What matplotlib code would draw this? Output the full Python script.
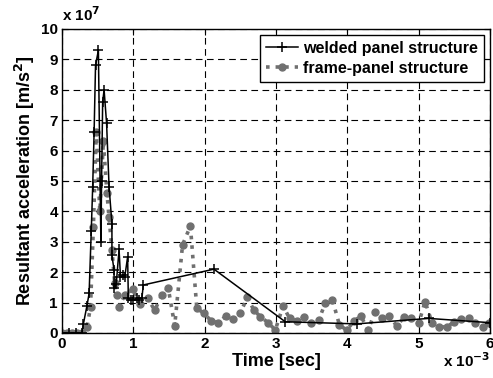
import matplotlib
matplotlib.use("Agg")
import matplotlib.pyplot as plt

plt.rcParams['font.family'] = ['Liberation Sans', 'DejaVu Sans']
plt.rcParams['font.weight'] = 'bold'

# time in ms (x 10^-3 s), acceleration in units of 1e7 m/s^2
welded_t = [0.0, 0.1, 0.2, 0.28, 0.30, 0.35, 0.38, 0.41, 0.43, 0.45, 0.47, 0.51,
            0.545, 0.555, 0.57, 0.59, 0.625, 0.66, 0.70, 0.70, 0.73, 0.73, 0.76,
            0.80, 0.82, 0.86, 0.88, 0.92, 0.93, 0.97, 1.00, 1.05, 1.08, 1.12,
            1.14, 2.13, 3.13, 4.13, 5.14, 6.00]
welded_a = [0.0, 0.0, 0.0, 0.0, 0.3, 0.9, 1.3, 3.35, 4.8, 6.6, 8.8, 9.3,
            3.0, 5.0, 7.6, 8.0, 6.9, 4.8, 3.6, 2.55, 2.07, 1.47, 1.6,
            2.75, 1.85, 1.9, 1.85, 2.5, 1.14, 1.1, 1.08, 1.15, 1.1, 1.15,
            1.58, 2.1, 0.37, 0.3, 0.48, 0.34]

frame_t = [0.0, 0.07, 0.14, 0.21, 0.28, 0.35, 0.40, 0.44, 0.48, 0.53, 0.58,
           0.63, 0.66, 0.70, 0.74, 0.77, 0.80, 0.88, 0.99, 1.09, 1.20, 1.30,
           1.40, 1.49, 1.58, 1.69, 1.80, 1.89, 1.99, 2.09, 2.19, 2.30, 2.40,
           2.50, 2.60, 2.69, 2.78, 2.89, 2.99, 3.10, 3.19, 3.29, 3.39, 3.49,
           3.60, 3.69, 3.79, 3.89, 3.99, 4.10, 4.19, 4.29, 4.39, 4.49, 4.59,
           4.69, 4.80, 4.89, 5.00, 5.09, 5.19, 5.29, 5.40, 5.50, 5.59, 5.70,
           5.79, 5.90, 5.99]
frame_a = [0.0, 0.0, 0.0, 0.0, 0.0, 0.2, 0.85, 3.5, 6.6, 4.0, 6.3,
           4.6, 3.8, 2.73, 1.63, 1.25, 0.87, 1.25, 1.44, 0.97, 1.14, 0.75,
           1.25, 1.47, 0.24, 2.9, 3.52, 0.81, 0.65, 0.4, 0.34, 0.56, 0.45,
           0.67, 1.17, 0.75, 0.54, 0.34, 0.1, 0.89, 0.48, 0.4, 0.52, 0.32,
           0.43, 0.98, 1.1, 0.26, 0.1, 0.4, 0.56, 0.1, 0.7, 0.48, 0.56,
           0.24, 0.52, 0.48, 0.32, 1.03, 0.32, 0.19, 0.21, 0.37, 0.45, 0.48,
           0.32, 0.21, 0.34]

x_ticks = [0, 1, 2, 3, 4, 5, 6]
y_ticks = [0, 1, 2, 3, 4, 5, 6, 7, 8, 9, 10]

fig = plt.figure(figsize=(4.93, 3.78), dpi=100)
ax = fig.add_axes([62/493, 45/378, 428/493, 304/378])

gray = '#707070'
ax.plot(frame_t, frame_a, linestyle=':', color=gray, linewidth=2.6,
        marker='o', markersize=5, markeredgecolor=gray, markerfacecolor=gray,
        label='frame-panel structure', zorder=2)
ax.plot(welded_t, welded_a, linestyle='-', color='black', linewidth=1.1,
        marker='+', markersize=7, markeredgewidth=1.1,
        label='welded panel structure', zorder=3)

ax.set_xlim(0, 6)
ax.set_ylim(0, 10)
ax.set_xticks(x_ticks)
ax.set_yticks(y_ticks)
ax.set_xticklabels([str(v) for v in x_ticks], fontsize=11, fontweight='bold')
ax.set_yticklabels([str(v) for v in y_ticks], fontsize=11, fontweight='bold')
ax.tick_params(direction='in', length=4, width=0.8, top=True, right=True, pad=3)
ax.grid(True, color='black', linestyle=(0, (6, 4)), linewidth=0.8)
for s in ax.spines.values():
    s.set_linewidth(1.0)

ax.set_xlabel('Time [sec]', fontsize=13, fontweight='bold', labelpad=1)
ax.set_ylabel('Resultant acceleration [m/s$^\\mathbf{2}$]', fontsize=13,
              fontweight='bold', labelpad=3)

ax.text(0.0, 1.015, 'x 10$^\\mathbf{7}$', transform=ax.transAxes, fontsize=11,
        fontweight='bold', ha='left', va='bottom')
ax.text(1.0, -0.06, 'x 10$^\\mathbf{-3}$', transform=ax.transAxes, fontsize=11,
        fontweight='bold', ha='right', va='top')

handles, labels = ax.get_legend_handles_labels()
leg = ax.legend(handles[::-1], labels[::-1], loc='upper right',
                prop={'weight': 'bold', 'size': 11.5}, fancybox=False,
                edgecolor='black', framealpha=1, handlelength=2.0,
                borderpad=0.4, labelspacing=0.3, handletextpad=0.3,
                borderaxespad=0.35)
leg.get_frame().set_linewidth(1.0)

fig.savefig('out.png', dpi=100)
